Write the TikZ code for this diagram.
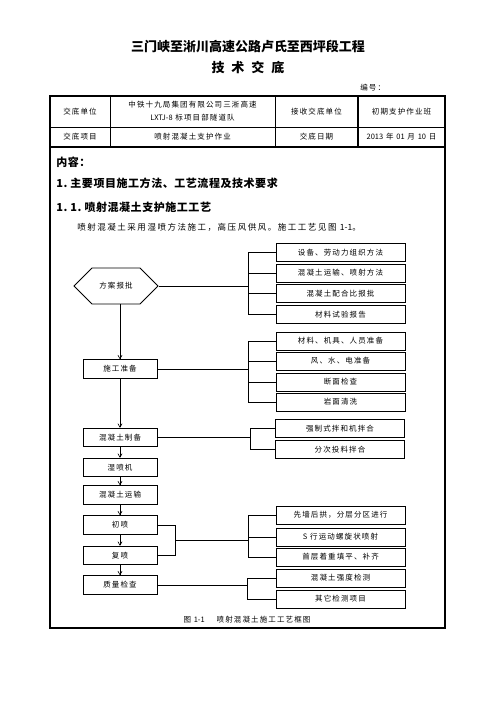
\documentclass[tikz,border=0pt]{standalone}
\usepackage{fontspec}
\newfontfamily\cjk{Noto Sans CJK SC}
\newfontfamily\cjks[LetterSpace=15]{Noto Sans CJK SC}
\newfontfamily\cjkp[LetterSpace=18]{Noto Sans CJK SC}
\newfontfamily\cjkh[LetterSpace=5]{Noto Sans CJK SC}
\newcommand{\num}[1]{{\cjk #1}}
\usetikzlibrary{arrows, shapes.symbols, positioning}
\tikzset{lbox/.style={draw, line width=0.8pt, minimum width=74pt, minimum height=18.5pt, inner sep=0pt, font=\cjks\fontsize{7.5}{8}\selectfont}}
\tikzset{rbox/.style={draw, line width=0.8pt, minimum width=129pt, minimum height=18pt, inner sep=0pt, font=\cjks\fontsize{7.5}{8}\selectfont}}
\tikzset{hexa/.style={draw, line width=0.8pt, signal, signal to=west and east, signal pointer angle=90, minimum width=84pt, minimum height=36pt, inner sep=0pt, font=\cjks\fontsize{7.5}{8}\selectfont}}
\tikzset{cell/.style={inner sep=0pt, align=center, font=\cjks\fontsize{7.5}{13}\selectfont}}
\tikzset{head/.style={inner sep=0pt, anchor=west, font=\cjkh\bfseries\fontsize{11}{12}\selectfont}}

\begin{document}
\begin{tikzpicture}[x=1pt, y=-1pt, >=angle 60, line width=0.6pt]
\useasboundingbox (0,0) rectangle (496,702);
% title and table
\node[inner sep=0pt, font=\cjk\bfseries\fontsize{13}{14}\selectfont] (t1) at (248,47) {三门峡至淅川高速公路卢氏至西坪段工程};
\node[inner sep=0pt, font=\cjk\bfseries\fontsize{13}{14}\selectfont] (t2) at (248,67) {技\hspace{7pt}术\hspace{7pt}交\hspace{7pt}底};
\node[cell, anchor=west] (bh) at (360,88) {编号：};
\draw[line width=1.1pt] (50,96) rectangle (445,147);
\draw (50,127) -- (445,127);
\draw (110,96) -- (110,147);
\draw (275,96) -- (275,147);
\draw[line width=1.1pt] (358,96) -- (358,147);
\node[cell] (c11) at (80,111.5) {交底单位};
\node[cell] (c12) at (192.5,111.5) {中铁十九局集团有限公司三淅高速\\\num{LXTJ-8} 标项目部隧道队};
\node[cell] (c13) at (316.5,111.5) {接收交底单位};
\node[cell] (c14) at (401.5,111.5) {初期支护作业班};
\node[cell] (c21) at (80,137) {交底项目};
\node[cell] (c22) at (192.5,137) {喷射混凝土支护作业};
\node[cell] (c23) at (316.5,137) {交底日期};
\node[cell] (c24) at (401.5,137) {\num{2013} 年 \num{01} 月 \num{10} 日};
\draw[line width=1.1pt] (50,147) rectangle (445,628);
% content
\node[head] (h0) at (56,162) {内容：};
\node[head] (h1) at (56,183) {1.\hspace{3pt}主要项目施工方法、工艺流程及技术要求};
\node[head] (h2) at (56,207) {1.\hspace{3pt}1.\hspace{3pt}喷射混凝土支护施工工艺};
\node[inner sep=0pt, anchor=west, font=\cjkp\fontsize{8.5}{9}\selectfont] (p1) at (77,227) {喷射混凝土采用湿喷方法施工，高压风供风。施工工艺见图 \num{1-1}。};
% left column
\node[hexa] (l1) at (116,286) {方案报批};
\node[lbox] (l2) at (120,369) {施工准备};
\node[lbox] (l3) at (120,437.5) {混凝土制备};
\node[lbox] (l4) at (120,467.5) {湿喷机};
\node[lbox] (l5) at (120,495) {混凝土运输};
\node[lbox] (l6) at (120,525) {初喷};
\node[lbox] (l7) at (120,555.5) {复喷};
\node[lbox] (l8) at (120,585) {质量检查};
% right column
\node[rbox] (r11) at (340.5,252.5) {设备、劳动力组织方法};
\node[rbox] (r12) at (340.5,273) {混凝土运输、喷射方法};
\node[rbox] (r13) at (340.5,293.5) {混凝土配合比报批};
\node[rbox] (r14) at (340.5,314.5) {材料试验报告};
\node[rbox] (r21) at (340.5,341) {材料、机具、人员准备};
\node[rbox] (r22) at (340.5,361) {风、水、电准备};
\node[rbox] (r23) at (340.5,382) {断面检查};
\node[rbox] (r24) at (340.5,402) {岩面清洗};
\node[rbox] (r31) at (340,428.5) {强制式拌和机拌合};
\node[rbox] (r32) at (340,449.5) {分次投料拌合};
\node[rbox] (r41) at (340.5,515) {先墙后拱，分层分区进行};
\node[rbox] (r42) at (340.5,537) {\num{S} 行运动螺旋状喷射};
\node[rbox] (r43) at (340.5,557) {首层着重填平、补齐};
\node[rbox] (r51) at (340.5,578) {混凝土强度检测};
\node[rbox] (r52) at (340.5,599) {其它检测项目};
\node[inner sep=0pt, font=\cjks\fontsize{7.5}{8}\selectfont] (cap) at (247,620) {图 \num{1-1}\hspace{12pt}喷射混凝土施工工艺框图};
% arrows
\draw[->] (l1.south -| l2.north) -- (l2.north);
\foreach \a/\b in {l2/l3, l3/l4, l4/l5, l5/l6, l6/l7, l7/l8}
  \draw[->] (\a.south) -- (\b.north);
% brackets
\coordinate (k0) at (175,0);
\coordinate (k1) at (248,0);
\coordinate (k2) at (248,0);
\coordinate (k3) at (250,0);
\coordinate (k4) at (248,0);
\coordinate (k5) at (247,0);
\draw (r11.west) -- (r11.west -| k1) -- (r14.west -| k1) -- (r14.west);
\foreach \r in {r12, r13} \draw (\r.west) -- (\r.west -| k1);
\draw (l1.east) -- (l1.east -| k1);
\draw (r21.west) -- (r21.west -| k2) -- (r24.west -| k2) -- (r24.west);
\foreach \r in {r22, r23} \draw (\r.west) -- (\r.west -| k2);
\draw (l2.east) -- (l2.east -| k2);
\draw (r31.west) -- (r31.west -| k3) -- (r32.west -| k3) -- (r32.west);
\draw (l3.east) -- (l3.east -| k3);
\draw (l6.east) -- (l6.east -| k0) -- (l7.east -| k0) -- (l7.east);
\coordinate (m4) at (175,540);
\draw (r41.west) -- (r41.west -| k4) -- (r43.west -| k4) -- (r43.west);
\draw (r42.west) -- (r42.west -| k4);
\draw (m4) -- (m4 -| k4);
\draw (r51.west) -- (r51.west -| k5) -- (r52.west -| k5) -- (r52.west);
\draw (l8.east) -- (l8.east -| k5);
\end{tikzpicture}
\end{document}
